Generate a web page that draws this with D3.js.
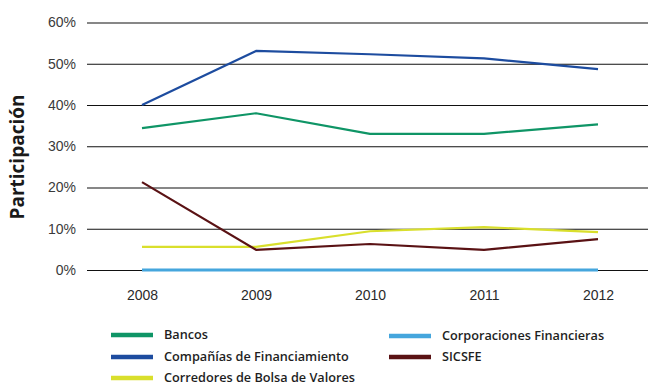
<!DOCTYPE html>
<html>
<head>
<meta charset="utf-8">
<script src="https://cdn.jsdelivr.net/npm/d3@7"></script>
<style>
  html, body { margin: 0; padding: 0; background: #fff; }
  svg { display: block; font-family: "Open Sans", "DejaVu Sans", sans-serif; }
</style>
</head>
<body>
<svg id="chart" width="648" height="389"></svg>
<script>
// Participation by type of entity, 2008–2012
const years = ["2008", "2009", "2010", "2011", "2012"];
const yTicks = [0, 10, 20, 30, 40, 50, 60];

const bancos        = [34.4, 38.0, 33.0, 33.0, 35.3];
const companias     = [40.0, 53.1, 52.3, 51.3, 48.7];
const corredores    = [5.6, 5.6, 9.4, 10.4, 9.2];
const corporaciones = [0.0, 0.0, 0.0, 0.0, 0.0];
const sicsfe        = [21.3, 4.9, 6.3, 4.9, 7.5];

const seriesNames  = ["Bancos", "Compañías de Financiamiento", "Corredores de Bolsa de Valores", "Corporaciones Financieras", "SICSFE"];
const seriesValues = [bancos, companias, corredores, corporaciones, sicsfe];
const seriesColors = ["#0f9566", "#1d4c9f", "#d9df2c", "#45a6dd", "#5a1214"];
const seriesWidths = [2.2, 2.2, 2.2, 3, 2.2];

const svg = d3.select("#chart");

const x = d3.scalePoint().domain(years).range([142, 598]);
const y = d3.scaleLinear().domain([0, 60]).range([270, 22.5]);

// Horizontal gridlines with percentage labels
const yAxis = d3.axisLeft(y)
  .tickValues(yTicks)
  .tickFormat(d => d + "%")
  .tickSize(-(648 - 87))
  .tickPadding(11);

const gy = svg.append("g")
  .attr("transform", "translate(87,0)")
  .call(yAxis);
gy.select(".domain").remove();
gy.selectAll(".tick line").attr("stroke", "#111").attr("stroke-width", 1.2);
gy.selectAll(".tick text")
  .attr("fill", "#3a3a3a")
  .style("font-size", "14px");

// Year labels
const xAxis = d3.axisBottom(x).tickSize(0).tickPadding(0);
const gx = svg.append("g")
  .attr("transform", "translate(0,290)")
  .call(xAxis);
gx.select(".domain").remove();
gx.selectAll(".tick text")
  .attr("fill", "#2a2a2a")
  .style("font-size", "14px");

// Axis title
svg.append("text")
  .attr("transform", "translate(24,157) rotate(-90)")
  .attr("text-anchor", "middle")
  .attr("fill", "#1a1a1a")
  .style("font-size", "19px")
  .style("font-weight", "bold")
  .text("Participación");

// Series lines
const line = d3.line()
  .x((d, i) => x(years[i]))
  .y(d => y(d));

// draw the flat zero series first so others sit above it
const drawOrder = [3, 0, 1, 2, 4];
drawOrder.forEach(k => {
  svg.append("path")
    .datum(seriesValues[k])
    .attr("fill", "none")
    .attr("stroke", seriesColors[k])
    .attr("stroke-width", seriesWidths[k])
    .attr("stroke-linejoin", "round")
    .attr("d", line);
});

// Legend
const legendPos = [
  [111, 335], [111, 357], [111, 378],
  [389, 336], [389, 357]
];
seriesNames.forEach((name, k) => {
  const [lx, ly] = legendPos[k];
  const g = svg.append("g").attr("transform", `translate(${lx},${ly})`);
  g.append("line")
    .attr("x1", 0).attr("x2", 42)
    .attr("y1", 0).attr("y2", 0)
    .attr("stroke", seriesColors[k])
    .attr("stroke-width", 4.5);
  g.append("text")
    .attr("x", 53)
    .attr("y", 0)
    .attr("dy", "0.35em")
    .attr("fill", "#1e1e1e")
    .style("font-size", "12.7px")
    .style("font-weight", "600")
    .text(name);
});
</script>
</body>
</html>
